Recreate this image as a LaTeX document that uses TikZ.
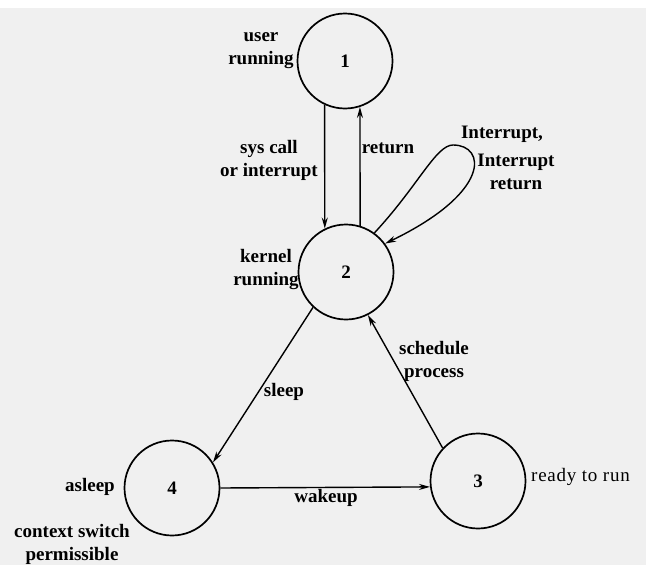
\documentclass[tikz,border=0pt]{standalone}
\usepackage{fontspec}
\setmainfont{Liberation Serif}
\newcommand\lblfnt{\bfseries\fontsize{19}{23}\selectfont}
\usetikzlibrary{arrows.meta}
\begin{document}
\begin{tikzpicture}[x=1pt,y=-1pt,
  state/.style={circle,draw,line width=1.7pt,minimum size=95pt,inner sep=0pt,font=\lblfnt},
  lbl/.style={font=\lblfnt,align=center,inner sep=0pt},
  conn/.style={line width=1.4pt,-{Stealth[length=11pt,width=6pt]}}]
\useasboundingbox (0,0) rectangle (646,565);
\fill[black!6] (0,8) rectangle (646,565);
\node[state] (c1) at (345,61) {1};
\node[state] (c2) at (346,272) {2};
\node[state] (c3) at (478,481) {3};
\node[state] (c4) at (172,488) {4};
\coordinate (lp) at (453,145);
\node[lbl] (tuser) at (261,51) {user\\running};
\node[lbl] (tsys) at (269,160) {sys call\\or interrupt};
\node[lbl] (tret) at (388,148) {return};
\node[lbl] (tint1) at (502,134) {Interrupt,};
\node[lbl] (tint2) at (516,172) {Interrupt\\return};
\node[lbl] (tkern) at (266,270) {kernel\\running};
\node[lbl] (tsleep) at (284,392) {sleep};
\node[lbl] (tsched) at (434,361) {schedule\\process};
\node[lbl] (tasleep) at (90,487) {asleep};
\node[lbl] (twake) at (326,498) {wakeup};
\node[lbl,anchor=west] (tready) at (531,477) {\mdseries\addfontfeature{LetterSpace=4}ready to run};
\node[lbl] (tctx) at (72,544) {context switch\\permissible};
\draw[conn] (c1.245) -- (c2.116);
\draw[conn] (c2.73) -- (c1.288);
\draw[conn] (c2.54) .. controls (418,186) and (436,145) .. (lp) .. controls (486,145) and (492,192) .. (c2.36);
\draw[conn] (c2.227) -- (c4.32);
\draw[conn] (c3.137) -- (c2.297);
\draw[conn] (c4.0) -- (c3.187);
\end{tikzpicture}
\end{document}
